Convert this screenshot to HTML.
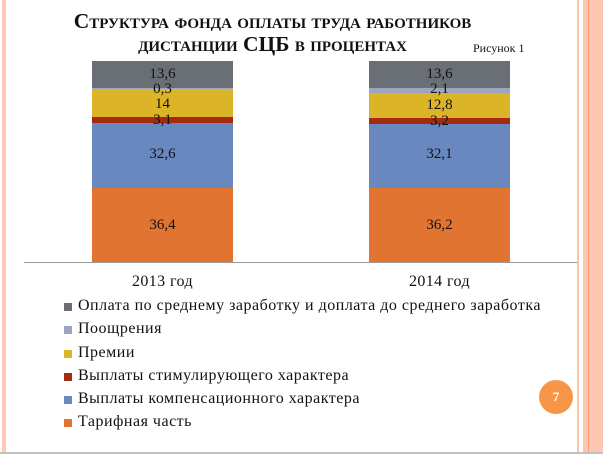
<!DOCTYPE html>
<html><head><meta charset="utf-8"><style>
body{margin:0;width:603px;height:454px;background:#fff;position:relative;overflow:hidden;font-family:"Liberation Serif",serif;color:#111}
div{position:absolute;white-space:nowrap}
.t{font-weight:bold;font-variant:small-caps;font-size:21.5px;text-align:center;width:603px;left:-29px}
.lab{font-size:15px;text-align:center;width:141px}
.lg{font-size:16px;left:78px;letter-spacing:0.5px}
.sq{width:8px;height:8px;left:64px}
</style></head><body>
<div style="left:2px;top:0;width:4px;height:452px;background:#fcc9b8"></div>
<div style="left:577px;top:0;width:2px;height:452px;background:#fcc1ae"></div>
<div style="left:583px;top:0;width:20px;height:452px;background:#fdc6b2"></div>
<div style="left:588px;top:0;width:1px;height:452px;background:#f8a070"></div>
<div style="left:0;top:452px;width:603px;height:2px;background:#c0c0c0"></div>
<div class="t" style="top:9px">Структура фонда оплаты труда работников</div>
<div class="t" style="top:32px">дистанции СЦБ в процентах</div>
<div style="left:473px;top:41px;font-size:12px">Рисунок 1</div>
<!-- 2013 -->
<div style="left:92px;top:61px;width:141px;height:27px;background:#6a6e75"></div>
<div style="left:92px;top:88px;width:141px;height:1px;background:#9ea6bf"></div>
<div style="left:92px;top:89px;width:141px;height:28px;background:#dcb428"></div>
<div style="left:92px;top:117px;width:141px;height:6px;background:#a52a12"></div>
<div style="left:92px;top:123px;width:141px;height:65px;background:#6a88c0"></div>
<div style="left:92px;top:188px;width:141px;height:74px;background:#e07430"></div>
<div class="lab" style="left:92px;top:66px">13,6</div>
<div class="lab" style="left:92px;top:81px">0,3</div>
<div class="lab" style="left:92px;top:96px">14</div>
<div class="lab" style="left:92px;top:112px">3,1</div>
<div class="lab" style="left:92px;top:146px">32,6</div>
<div class="lab" style="left:92px;top:217px">36,4</div>
<!-- 2014 -->
<div style="left:369px;top:61px;width:141px;height:27px;background:#6a6e75"></div>
<div style="left:369px;top:88px;width:141px;height:5px;background:#9ea6bf"></div>
<div style="left:369px;top:93px;width:141px;height:25px;background:#dcb428"></div>
<div style="left:369px;top:118px;width:141px;height:6px;background:#a52a12"></div>
<div style="left:369px;top:124px;width:141px;height:64px;background:#6a88c0"></div>
<div style="left:369px;top:188px;width:141px;height:74px;background:#e07430"></div>
<div class="lab" style="left:369px;top:66px">13,6</div>
<div class="lab" style="left:369px;top:81px">2,1</div>
<div class="lab" style="left:369px;top:97px">12,8</div>
<div class="lab" style="left:369px;top:113px">3,2</div>
<div class="lab" style="left:369px;top:146px">32,1</div>
<div class="lab" style="left:369px;top:217px">36,2</div>
<div style="left:24px;top:262px;width:553px;height:1px;background:#999"></div>
<div class="lab" style="left:92px;top:273px;font-size:16px;letter-spacing:0.4px">2013 год</div>
<div class="lab" style="left:369px;top:273px;font-size:16px;letter-spacing:0.4px">2014 год</div>
<div class="sq" style="top:303px;background:#6a6e75"></div><div class="lg" style="top:297px">Оплата по среднему заработку и доплата до среднего заработка</div>
<div class="sq" style="top:326px;background:#9ea6bf"></div><div class="lg" style="top:320px">Поощрения</div>
<div class="sq" style="top:350px;background:#dcb428"></div><div class="lg" style="top:344px">Премии</div>
<div class="sq" style="top:373px;background:#a52a12"></div><div class="lg" style="top:367px">Выплаты стимулирующего характера</div>
<div class="sq" style="top:396px;background:#6a88c0"></div><div class="lg" style="top:390px">Выплаты компенсационного характера</div>
<div class="sq" style="top:419px;background:#e07430"></div><div class="lg" style="top:413px">Тарифная часть</div>
<div style="left:539px;top:380px;width:34px;height:34px;border-radius:50%;background:#f79646;color:#fff;font-weight:bold;font-size:13px;text-align:center;line-height:34px">7</div>
</body></html>
